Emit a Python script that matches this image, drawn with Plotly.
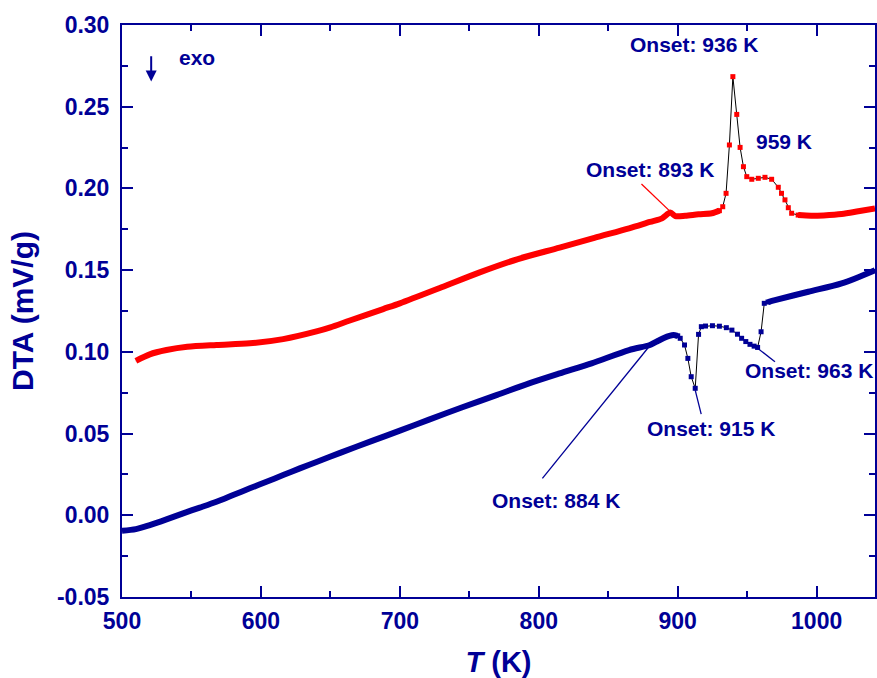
import plotly.graph_objects as go

# ---------------- data ----------------
red_T = [510, 520, 532, 547, 568, 592, 616, 640, 650, 664, 688, 700, 730, 757, 785, 815,
         840, 865, 880, 888.7, 894.7, 898.3, 905.4, 915, 924.5, 930,
         932.4, 934.8, 937.2, 939.7, 942.5, 944.9, 947.3, 949.7, 953.3, 958, 962.8,
         967.6, 972.4, 974.7, 977.2, 979.6, 982, 986.7, 996, 1005, 1018, 1030, 1042]
red_v = [0.0945, 0.0985, 0.1011, 0.1031, 0.1042, 0.1052, 0.1078, 0.1125, 0.1150, 0.1192,
         0.1262, 0.1297, 0.1395, 0.1485, 0.1568, 0.1638, 0.1698, 0.1756, 0.1795, 0.1817,
         0.1852, 0.1831, 0.1833, 0.1842, 0.1848, 0.1864,
         0.1888, 0.1970, 0.2266, 0.2684, 0.2453, 0.2251, 0.2133, 0.2072, 0.2056, 0.2062,
         0.2068, 0.2056, 0.2007, 0.1970, 0.1930, 0.1882, 0.1848, 0.1837, 0.1833, 0.1835,
         0.1843, 0.1860, 0.1878]

blue_T = [500, 510, 520, 532, 544, 556, 568, 580, 592, 604, 616, 628, 640, 657, 680, 700,
          721, 745, 770, 793, 815, 838, 865, 880, 886, 890, 894, 897, 900,
          901.8, 904.9, 907.3, 909.7, 912.6, 915, 917, 920, 925, 930, 935, 939, 943,
          946, 949, 952, 955, 957.5, 960, 962.3, 965, 970, 994, 1018, 1042]
blue_v = [-0.0095, -0.0085, -0.0060, -0.0025, 0.0012, 0.0047, 0.0083, 0.0124, 0.0165,
          0.0205, 0.0246, 0.0287, 0.0326, 0.0382, 0.0455, 0.0518, 0.0585, 0.0661, 0.0737,
          0.0807, 0.0868, 0.0930, 0.1011, 0.1042, 0.1068, 0.1085, 0.1098, 0.1103, 0.1098,
          0.1083, 0.1042, 0.0960, 0.0848, 0.0777, 0.1107, 0.1154, 0.1158, 0.1160, 0.1157,
          0.1148, 0.1133, 0.1108, 0.1083, 0.1063, 0.1046, 0.1035, 0.1027, 0.1123, 0.1297,
          0.1305, 0.1317, 0.1368, 0.1419, 0.1500]

x_ticks = [500, 600, 700, 800, 900, 1000]
y_ticks = [-0.05, 0.00, 0.05, 0.10, 0.15, 0.20, 0.25, 0.30]
y_tick_text = ["-0.05", "0.00", "0.05", "0.10", "0.15", "0.20", "0.25", "0.30"]

# ---------------- style ----------------
NAVY = "#000096"
RED = "#ff0000"
FONT = "Liberation Sans, Arial, sans-serif"

# temperature windows where the individual (sparse) data markers are visible
red_window = (930, 986.7)
blue_window = (900, 965)


def split(T, v, win):
    """Return the dense parts (for a thick band) and sparse part (markers)."""
    lo, hi = win
    segs = [([t for t in T if t <= lo], [y for t, y in zip(T, v) if t <= lo]),
            ([t for t in T if t >= hi], [y for t, y in zip(T, v) if t >= hi])]
    sT = [t for t in T if lo <= t <= hi]
    sv = [y for t, y in zip(T, v) if lo <= t <= hi]
    return segs, sT, sv


fig = go.Figure()

for T, v, col, win in [(red_T, red_v, RED, red_window), (blue_T, blue_v, NAVY, blue_window)]:
    segs, sT, sv = split(T, v, win)
    fig.add_trace(go.Scatter(x=T, y=v, mode="lines", line=dict(color="black", width=1),
                             hoverinfo="skip", showlegend=False))
    for dT, dv in segs:
        fig.add_trace(go.Scatter(x=dT, y=dv, mode="lines",
                                 line=dict(color=col, width=6, shape="spline", smoothing=0.8),
                                 showlegend=False))
    fig.add_trace(go.Scatter(x=sT, y=sv, mode="markers",
                             marker=dict(symbol="square", size=5, color=col),
                             showlegend=False))

# leader lines of the onset annotations
leaders = [
    (873.9, 0.2027, 894.7, 0.1858, RED),
    (912.6, 0.0766, 916.9, 0.0619, NAVY),
    (957.5, 0.1022, 970.0, 0.0940, NAVY),
    (880.3, 0.1042, 802.6, 0.0226, NAVY),
]
for x0, y0, x1, y1, c in leaders:
    fig.add_shape(type="line", x0=x0, y0=y0, x1=x1, y1=y1, xref="x", yref="y",
                  line=dict(color=c, width=1.3))

labels = [
    ("Onset: 936 K", 911.4, 0.2878),
    ("959 K", 976.6, 0.2290),
    ("Onset: 893 K", 879.8, 0.2113),
    ("Onset: 915 K", 924.3, 0.0534),
    ("Onset: 963 K", 994.6, 0.0889),
    ("Onset: 884 K", 812.2, 0.0093),
    ("exo", 554.2, 0.2804),
]
for txt, x, y in labels:
    fig.add_annotation(x=x, y=y, xref="x", yref="y", text=txt, showarrow=False,
                       font=dict(family=FONT, size=21, color=NAVY, weight="bold"))

# "exo" direction arrow
fig.add_annotation(x=521, y=0.2655, ax=521, ay=0.2818, xref="x", yref="y",
                   axref="x", ayref="y", text="", showarrow=True, arrowhead=2,
                   arrowsize=1.1, arrowwidth=2, arrowcolor=NAVY)

axis_common = dict(
    showline=True, linecolor=NAVY, linewidth=2, mirror="allticks",
    ticks="inside", ticklen=11, tickwidth=1.5, tickcolor=NAVY,
    showgrid=False, zeroline=False,
    tickfont=dict(family=FONT, size=23, color=NAVY, weight="bold"),
)

fig.update_xaxes(range=[500, 1042], tickvals=x_ticks, ticklabelstandoff=2,
                 minor=dict(dtick=50, ticklen=6, tickwidth=1.5, tickcolor=NAVY, ticks="inside"),
                 title=dict(text="<i>T</i> (K)", standoff=20,
                            font=dict(family=FONT, size=29, color=NAVY, weight="bold")),
                 **axis_common)
fig.update_yaxes(range=[-0.05, 0.30], tickvals=y_ticks, ticktext=y_tick_text,
                 ticklabelstandoff=6,
                 minor=dict(dtick=0.025, ticklen=6, tickwidth=1.5, tickcolor=NAVY, ticks="inside"),
                 title=dict(text="DTA (mV/g)", standoff=14,
                            font=dict(family=FONT, size=30, color=NAVY, weight="bold")),
                 **axis_common)

fig.update_layout(width=877, height=678, margin=dict(l=122, r=0, t=25, b=81),
                  plot_bgcolor="white", paper_bgcolor="white", showlegend=False)

fig.write_html("out.html")
